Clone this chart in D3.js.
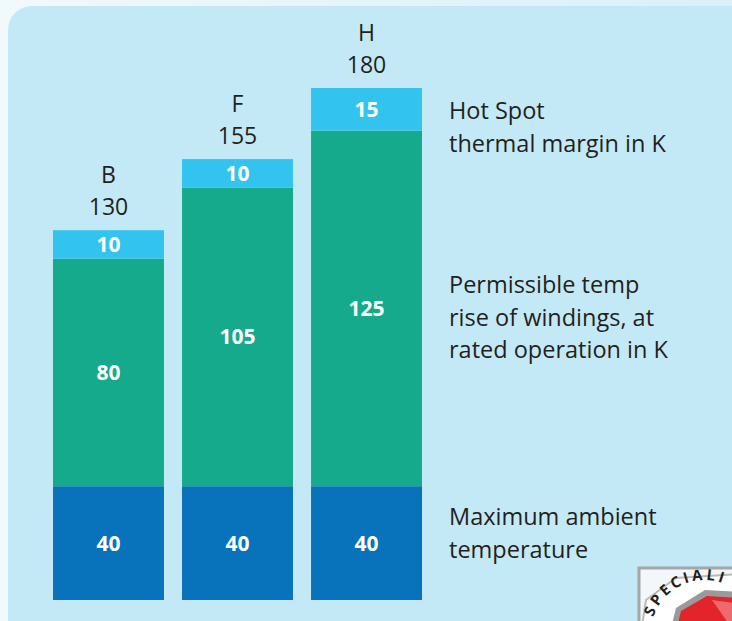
<!DOCTYPE html>
<html>
<head>
<meta charset="utf-8">
<script src="https://cdn.jsdelivr.net/npm/d3@7"></script>
<style>
	html, body { margin: 0; padding: 0; background: #eef8fc; }
	svg { display: block; font-family: "Open Sans", sans-serif; }
</style>
</head>
<body>
<div id="chart"></div>
<script>
(function() {
	// insulation classes and their limits in K
	var classes = ["B", "F", "H"];
	var totals = [130, 155, 180];
	var ambient = [40, 40, 40];
	var tempRise = [80, 105, 125];
	var hotSpot = [10, 10, 15];
	var seriesNames = ["ambient", "rise", "hot"];
	var legendLines = [
		["Hot Spot", "thermal margin in K"],
		["Permissible temp", "rise of windings, at", "rated operation in K"],
		["Maximum ambient", "temperature"]
	];

	var width = 732;
	var height = 621;

	var svg = d3.select("#chart")
		.append("svg")
		.attr("width", width)
		.attr("height", height);

	// light page behind the panel
	var bg = svg.append("defs").append("linearGradient")
		.attr("id", "pageGrad")
		.attr("x1", "0").attr("x2", "1").attr("y1", "0").attr("y2", "0");
	bg.append("stop").attr("offset", "0").attr("stop-color", "#f1f9fc");
	bg.append("stop").attr("offset", "1").attr("stop-color", "#d9f0f9");
	svg.append("rect")
		.attr("width", width)
		.attr("height", height)
		.attr("fill", "url(#pageGrad)");

	// rounded panel
	svg.append("rect")
		.attr("x", 8)
		.attr("y", 6)
		.attr("width", 748)
		.attr("height", 640)
		.attr("rx", 24)
		.attr("fill", "#c4e9f6");

	var table = classes.map(function(c, i) {
		return { cls: c, total: totals[i], ambient: ambient[i], rise: tempRise[i], hot: hotSpot[i] };
	});

	var stack = d3.stack().keys(seriesNames);
	var layers = stack(table);

	var x = d3.scaleBand()
		.domain(classes)
		.range([53, 422])
		.paddingInner(0.14);

	var y = d3.scaleLinear()
		.domain([0, 180])
		.range([600, 88]);

	var color = d3.scaleOrdinal()
		.domain(seriesNames)
		.range(["#0873bb", "#16aa8c", "#33c3ef"]);

	var g = svg.append("g");

	var layer = g.selectAll("g.layer")
		.data(layers)
		.enter()
		.append("g")
		.attr("class", "layer")
		.attr("fill", function(d) { return color(d.key); });

	layer.selectAll("rect")
		.data(function(d) { return d; })
		.enter()
		.append("rect")
		.attr("x", function(d) { return x(d.data.cls); })
		.attr("y", function(d) { return y(d[1]); })
		.attr("width", x.bandwidth())
		.attr("height", function(d) { return y(d[0]) - y(d[1]); });

	// values inside the segments
	layer.selectAll("text")
		.data(function(d) { return d.map(function(p) { p.key = d.key; return p; }); })
		.enter()
		.append("text")
		.attr("x", function(d) { return x(d.data.cls) + x.bandwidth() / 2; })
		.attr("y", function(d) { return (y(d[0]) + y(d[1])) / 2; })
		.attr("dy", "0.36em")
		.attr("text-anchor", "middle")
		.attr("fill", "#ffffff")
		.attr("font-weight", "bold")
		.attr("font-size", "21px")
		.text(function(d) { return d.data[d.key]; });

	// class letter and total above each bar
	var heads = g.selectAll("g.head")
		.data(table)
		.enter()
		.append("g")
		.attr("class", "head")
		.attr("fill", "#231f20")
		.attr("font-size", "23px")
		.attr("text-anchor", "middle");

	heads.append("text")
		.attr("x", function(d) { return x(d.cls) + x.bandwidth() / 2; })
		.attr("y", function(d) { return y(d.total) - 47; })
		.text(function(d) { return d.cls; });

	heads.append("text")
		.attr("x", function(d) { return x(d.cls) + x.bandwidth() / 2; })
		.attr("y", function(d) { return y(d.total) - 15; })
		.text(function(d) { return d.total; });

	// legend texts on the right
	var legendTop = [119, 293, 525];
	var legend = svg.append("g")
		.attr("fill", "#231f20")
		.attr("font-size", "23.5px");
	legendLines.forEach(function(lines, i) {
		var t = legend.append("text")
			.attr("x", 449)
			.attr("y", legendTop[i]);
		lines.forEach(function(line, j) {
			t.append("tspan")
				.attr("x", 449)
				.attr("dy", j === 0 ? 0 : 32.5)
				.text(line);
		});
	});

	// corner badge (cut off by the frame, like the original)
	var badge = svg.append("g");
	badge.append("rect")
		.attr("x", 639)
		.attr("y", 568)
		.attr("width", 120)
		.attr("height", 80)
		.attr("fill", "#f3f7fa")
		.attr("stroke", "#a6a6a6")
		.attr("stroke-width", 3);
	badge.append("path")
		.attr("d", "M640,640 L646,600 L676,578 L740,574 L740,640 Z")
		.attr("fill", "#ffffff")
		.attr("stroke", "#b9b9b9")
		.attr("stroke-width", 2);
	badge.append("path")
		.attr("d", "M668,640 L676,608 L705,590 L740,592 L740,640 Z")
		.attr("fill", "#9a9a9a");
	badge.append("path")
		.attr("d", "M674,640 L681,611 L707,596 L740,598 L740,640 Z")
		.attr("fill", "#e3242b");
	badge.append("path")
		.attr("d", "M712,600 L740,604 L740,640 Z")
		.attr("fill", "#f08a8d")
		.attr("opacity", 0.7);
	badge.append("path")
		.attr("id", "badgeArc")
		.attr("d", "M651,628 A54,54 0 0,1 753,610")
		.attr("fill", "none");
	badge.append("text")
		.attr("font-size", "15px")
		.attr("font-weight", "bold")
		.attr("fill", "#231f20")
		.attr("letter-spacing", "3px")
		.append("textPath")
		.attr("href", "#badgeArc")
		.attr("startOffset", "11")
		.text("SPECIALI");
})();
</script>
</body>
</html>
